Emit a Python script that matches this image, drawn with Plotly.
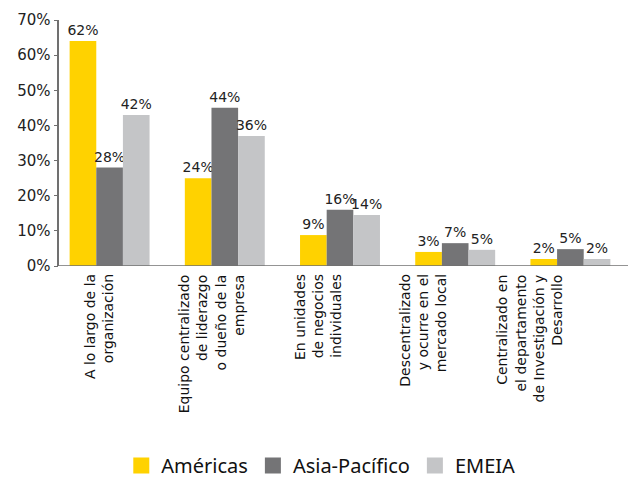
import plotly.graph_objects as go

categories = [
    "A lo largo de la<br>organización",
    "Equipo centralizado<br>de liderazgo<br>o dueño de la<br>empresa",
    "En unidades<br>de negocios<br>individuales",
    "Descentralizado<br>y ocurre en el<br>mercado local",
    "Centralizado en<br>el departamento<br>de Investigación y<br>Desarrollo",
]
series_names = ["Américas", "Asia-Pacífico", "EMEIA"]
# bar heights as drawn
americas = [0.64, 0.25, 0.088, 0.04, 0.02]
asia_pacifico = [0.28, 0.45, 0.16, 0.065, 0.048]
emeia = [0.43, 0.37, 0.145, 0.046, 0.02]
# printed labels
americas_lbl = ["62%", "24%", "9%", "3%", "2%"]
asia_lbl = ["28%", "44%", "16%", "7%", "5%"]
emeia_lbl = ["42%", "36%", "14%", "5%", "2%"]
colors = ["#FFD200", "#747476", "#C4C5C7"]
# horizontal offset (px) of each category label from its group centre, as in the original
label_shift = [-11, -13, -22, -33, -41]

FONT = "DejaVu Sans"
AXIS_COL = "#707070"

fig = go.Figure()
for name, vals, lbls, col in zip(series_names, [americas, asia_pacifico, emeia],
                                 [americas_lbl, asia_lbl, emeia_lbl], colors):
    fig.add_trace(go.Bar(
        x=categories, y=vals, name=name, marker_color=col, marker_line_width=0,
        text=lbls, textposition="outside", cliponaxis=False, showlegend=False,
        constraintext="none",
        textfont=dict(family=FONT, size=14, color="#222222"),
    ))
    fig.add_trace(go.Scatter(
        x=[None], y=[None], mode="markers", name=name,
        marker=dict(symbol="square", size=16, color=col),
    ))

for cat, sh in zip(categories, label_shift):
    fig.add_annotation(
        x=cat, xref="x", y=0, yref="paper", xanchor="center", yanchor="top",
        text=cat, textangle=-90, align="right", showarrow=False,
        xshift=sh, yshift=-6,
        font=dict(family=FONT, size=14, color="#111111"),
    )

yaxis_pos = 0.011
fig.update_layout(
    width=629, height=485,
    margin=dict(l=52, r=1, t=20, b=219),
    paper_bgcolor="white", plot_bgcolor="white",
    barmode="group", bargap=0.306, bargroupgap=0,
    font=dict(family=FONT, color="#222222"),
    legend=dict(orientation="h", x=0.51, xanchor="center", xref="container",
                y=3, yanchor="bottom", yref="container",
                font=dict(family="Noto Sans", size=20, color="#111111"),
                itemwidth=30, tracegroupgap=0),
    showlegend=True,
    shapes=[dict(type="line", xref="paper", yref="y", x0=yaxis_pos, x1=1,
                 y0=0, y1=0, line=dict(color=AXIS_COL, width=1.5), layer="above")],
)
fig.update_yaxes(range=[0, 0.7], dtick=0.1, tickformat=".0%", showgrid=False,
                 anchor="free", position=yaxis_pos,
                 showline=True, linecolor=AXIS_COL, linewidth=1.5,
                 ticks="outside", ticklen=4, tickcolor=AXIS_COL,
                 tickfont=dict(family=FONT, size=15, color="#222222"),
                 zeroline=False)
fig.update_xaxes(showline=False, domain=[0, 1], showticklabels=False,
                 ticks="", showgrid=False)

fig.write_html("out.html")
